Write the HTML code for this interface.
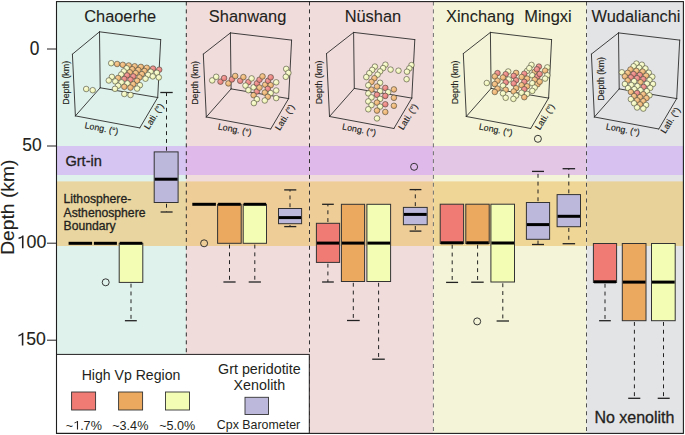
<!DOCTYPE html>
<html><head><meta charset="utf-8"><style>
html,body{margin:0;padding:0;background:#fff;width:685px;height:435px;overflow:hidden}
text{stroke:#231f20;stroke-width:.1px;stroke-linejoin:round}
.sm text{stroke-width:.15px}
.lg text{stroke-width:0}
text.b,.b text{stroke-width:.3px}
</style></head><body>
<svg width="685" height="435" viewBox="0 0 685 435" style="display:block">
<defs>
<radialGradient id="gy" cx="0.38" cy="0.35" r="0.7"><stop offset="0" stop-color="#fbfdda"/><stop offset="1" stop-color="#e8eea6"/></radialGradient>
<radialGradient id="go" cx="0.38" cy="0.35" r="0.7"><stop offset="0" stop-color="#f7cd98"/><stop offset="1" stop-color="#e6a662"/></radialGradient>
<radialGradient id="gr" cx="0.38" cy="0.35" r="0.7"><stop offset="0" stop-color="#f4a29d"/><stop offset="1" stop-color="#e27371"/></radialGradient>
</defs>
<rect x="0" y="0" width="685" height="435" fill="#fff"/>
<rect x="56.5" y="1.6" width="129.50" height="431.80" fill="#e0f2ec"/>
<rect x="56.5" y="146" width="129.50" height="29.00" fill="#d6c5f3"/>
<rect x="56.5" y="181.4" width="129.50" height="64.60" fill="#e9d59f"/>
<rect x="186" y="1.6" width="123.50" height="431.80" fill="#f1dcdc"/>
<rect x="186" y="146" width="123.50" height="29.00" fill="#dfb9ea"/>
<rect x="186" y="181.4" width="123.50" height="64.60" fill="#eecd97"/>
<rect x="309.5" y="1.6" width="123.90" height="431.80" fill="#f1dcdc"/>
<rect x="309.5" y="146" width="123.90" height="29.00" fill="#dfb9ea"/>
<rect x="309.5" y="181.4" width="123.90" height="64.60" fill="#eecd97"/>
<rect x="433.4" y="1.6" width="153.10" height="431.80" fill="#f4f5d8"/>
<rect x="433.4" y="146" width="153.10" height="29.00" fill="#e3c5e6"/>
<rect x="433.4" y="181.4" width="153.10" height="64.60" fill="#efd596"/>
<rect x="586.5" y="1.6" width="96.90" height="431.80" fill="#e3e4e6"/>
<rect x="586.5" y="146" width="96.90" height="29.00" fill="#d6c1f1"/>
<rect x="586.5" y="181.4" width="96.90" height="64.60" fill="#e9d19a"/>
<line x1="186.3" y1="1.5" x2="186.3" y2="433.4" stroke="#2e2e2e" stroke-width="1" stroke-dasharray="4 3.88"/>
<line x1="309.5" y1="1.5" x2="309.5" y2="433.4" stroke="#333" stroke-width="1" stroke-dasharray="4 3.88"/>
<line x1="433.4" y1="1.5" x2="433.4" y2="433.4" stroke="#707070" stroke-width="1" stroke-dasharray="4 3.88"/>
<line x1="586.5" y1="1.5" x2="586.5" y2="433.4" stroke="#505050" stroke-width="1" stroke-dasharray="4 3.88"/>
<g stroke="#2b2b2b" stroke-width="0.9" fill="none" stroke-linecap="round">
<line x1="99.5" y1="31.8" x2="160.7" y2="39.6"/>
<line x1="160.7" y1="39.6" x2="157.7" y2="97.5"/>
<line x1="99.5" y1="31.8" x2="100.2" y2="87.8"/>
<line x1="99.5" y1="31.8" x2="72.4" y2="54.2"/>
<line x1="72.4" y1="54.2" x2="75.4" y2="115.9"/>
<line x1="100.2" y1="87.8" x2="75.4" y2="115.9"/>
<line x1="100.2" y1="87.8" x2="157.7" y2="97.5"/>
<line x1="75.4" y1="115.9" x2="139.8" y2="127.9"/>
<line x1="139.8" y1="127.9" x2="157.7" y2="97.5"/>
</g>
<circle cx="111.2" cy="63.2" r="2.8" fill="url(#gy)" stroke="#4a4a3e" stroke-width="0.6"/>
<circle cx="117.1" cy="64.0" r="2.8" fill="url(#go)" stroke="#4a4a3e" stroke-width="0.6"/>
<circle cx="122.8" cy="64.8" r="2.8" fill="url(#go)" stroke="#4a4a3e" stroke-width="0.6"/>
<circle cx="128.8" cy="65.5" r="2.8" fill="url(#go)" stroke="#4a4a3e" stroke-width="0.6"/>
<circle cx="134.7" cy="66.3" r="2.8" fill="url(#go)" stroke="#4a4a3e" stroke-width="0.6"/>
<circle cx="140.9" cy="66.9" r="2.8" fill="url(#go)" stroke="#4a4a3e" stroke-width="0.6"/>
<circle cx="146.8" cy="67.8" r="2.8" fill="url(#go)" stroke="#4a4a3e" stroke-width="0.6"/>
<circle cx="153.0" cy="68.6" r="2.8" fill="url(#gr)" stroke="#4a4a3e" stroke-width="0.6"/>
<circle cx="159.2" cy="69.7" r="2.8" fill="url(#gr)" stroke="#4a4a3e" stroke-width="0.6"/>
<circle cx="126.7" cy="68.3" r="2.8" fill="url(#gy)" stroke="#4a4a3e" stroke-width="0.6"/>
<circle cx="132.3" cy="69.2" r="2.8" fill="url(#go)" stroke="#4a4a3e" stroke-width="0.6"/>
<circle cx="138.3" cy="70.0" r="2.8" fill="url(#go)" stroke="#4a4a3e" stroke-width="0.6"/>
<circle cx="144.5" cy="71.0" r="2.8" fill="url(#go)" stroke="#4a4a3e" stroke-width="0.6"/>
<circle cx="150.7" cy="71.7" r="2.8" fill="url(#gy)" stroke="#4a4a3e" stroke-width="0.6"/>
<circle cx="156.9" cy="72.8" r="2.8" fill="url(#gy)" stroke="#4a4a3e" stroke-width="0.6"/>
<circle cx="123.8" cy="71.4" r="2.8" fill="url(#gy)" stroke="#4a4a3e" stroke-width="0.6"/>
<circle cx="129.8" cy="72.3" r="2.8" fill="url(#go)" stroke="#4a4a3e" stroke-width="0.6"/>
<circle cx="135.7" cy="73.1" r="2.8" fill="url(#go)" stroke="#4a4a3e" stroke-width="0.6"/>
<circle cx="141.9" cy="74.1" r="2.8" fill="url(#go)" stroke="#4a4a3e" stroke-width="0.6"/>
<circle cx="148.1" cy="74.9" r="2.8" fill="url(#gy)" stroke="#4a4a3e" stroke-width="0.6"/>
<circle cx="152.8" cy="76.4" r="2.8" fill="url(#gy)" stroke="#4a4a3e" stroke-width="0.6"/>
<circle cx="158.8" cy="77.4" r="2.8" fill="url(#gy)" stroke="#4a4a3e" stroke-width="0.6"/>
<circle cx="121.2" cy="74.5" r="2.8" fill="url(#gy)" stroke="#4a4a3e" stroke-width="0.6"/>
<circle cx="127.1" cy="75.4" r="2.8" fill="url(#gr)" stroke="#4a4a3e" stroke-width="0.6"/>
<circle cx="133.3" cy="76.4" r="2.8" fill="url(#gr)" stroke="#4a4a3e" stroke-width="0.6"/>
<circle cx="139.5" cy="77.4" r="2.8" fill="url(#go)" stroke="#4a4a3e" stroke-width="0.6"/>
<circle cx="145.5" cy="78.7" r="2.8" fill="url(#gy)" stroke="#4a4a3e" stroke-width="0.6"/>
<circle cx="111.9" cy="76.9" r="2.8" fill="url(#gy)" stroke="#4a4a3e" stroke-width="0.6"/>
<circle cx="118.1" cy="78.0" r="2.8" fill="url(#go)" stroke="#4a4a3e" stroke-width="0.6"/>
<circle cx="124.3" cy="79.0" r="2.8" fill="url(#gr)" stroke="#4a4a3e" stroke-width="0.6"/>
<circle cx="130.5" cy="79.7" r="2.8" fill="url(#gr)" stroke="#4a4a3e" stroke-width="0.6"/>
<circle cx="137.1" cy="80.8" r="2.8" fill="url(#go)" stroke="#4a4a3e" stroke-width="0.6"/>
<circle cx="108.8" cy="80.5" r="2.8" fill="url(#gy)" stroke="#4a4a3e" stroke-width="0.6"/>
<circle cx="115.3" cy="81.4" r="2.8" fill="url(#gy)" stroke="#4a4a3e" stroke-width="0.6"/>
<circle cx="121.5" cy="82.4" r="2.8" fill="url(#gy)" stroke="#4a4a3e" stroke-width="0.6"/>
<circle cx="127.4" cy="83.4" r="2.8" fill="url(#gy)" stroke="#4a4a3e" stroke-width="0.6"/>
<circle cx="133.3" cy="84.2" r="2.8" fill="url(#go)" stroke="#4a4a3e" stroke-width="0.6"/>
<circle cx="139.9" cy="85.2" r="2.8" fill="url(#gy)" stroke="#4a4a3e" stroke-width="0.6"/>
<circle cx="118.1" cy="85.7" r="2.8" fill="url(#gy)" stroke="#4a4a3e" stroke-width="0.6"/>
<circle cx="124.3" cy="86.8" r="2.8" fill="url(#go)" stroke="#4a4a3e" stroke-width="0.6"/>
<circle cx="130.5" cy="87.6" r="2.8" fill="url(#go)" stroke="#4a4a3e" stroke-width="0.6"/>
<circle cx="137.1" cy="88.6" r="2.8" fill="url(#gy)" stroke="#4a4a3e" stroke-width="0.6"/>
<circle cx="115.0" cy="88.8" r="2.8" fill="url(#gy)" stroke="#4a4a3e" stroke-width="0.6"/>
<circle cx="124.3" cy="94.0" r="2.8" fill="url(#gy)" stroke="#4a4a3e" stroke-width="0.6"/>
<circle cx="130.5" cy="95.0" r="2.8" fill="url(#gy)" stroke="#4a4a3e" stroke-width="0.6"/>
<circle cx="86.2" cy="89.0" r="2.8" fill="url(#gy)" stroke="#4a4a3e" stroke-width="0.6"/>
<circle cx="92.7" cy="90.2" r="2.8" fill="url(#gy)" stroke="#4a4a3e" stroke-width="0.6"/>
<g class="sm" font-family='"Liberation Sans", sans-serif' font-size="8.9" fill="#231f20">
<text transform="translate(68.5,82.8) rotate(-90)" text-anchor="middle">Depth (km)</text>
<text transform="translate(101.0,131.3) rotate(11)" text-anchor="middle">Long. (°)</text>
<text transform="translate(156.4,117.8) rotate(-58)" text-anchor="middle">Lati. (°)</text>
</g>
<g stroke="#2b2b2b" stroke-width="0.9" fill="none" stroke-linecap="round">
<line x1="230.4" y1="32.9" x2="291.6" y2="40.1"/>
<line x1="291.6" y1="40.1" x2="288.6" y2="98.6"/>
<line x1="230.4" y1="32.9" x2="231.1" y2="88.9"/>
<line x1="230.4" y1="32.9" x2="203.3" y2="54.1"/>
<line x1="203.3" y1="54.1" x2="206.3" y2="117.0"/>
<line x1="231.1" y1="88.9" x2="206.3" y2="117.0"/>
<line x1="231.1" y1="88.9" x2="288.6" y2="98.6"/>
<line x1="206.3" y1="117.0" x2="270.7" y2="129.0"/>
<line x1="270.7" y1="129.0" x2="288.6" y2="98.6"/>
</g>
<circle cx="212.2" cy="80.4" r="2.8" fill="url(#gy)" stroke="#4a4a3e" stroke-width="0.6"/>
<circle cx="216.2" cy="76.8" r="2.8" fill="url(#gy)" stroke="#4a4a3e" stroke-width="0.6"/>
<circle cx="220.5" cy="81.7" r="2.8" fill="url(#gr)" stroke="#4a4a3e" stroke-width="0.6"/>
<circle cx="224.1" cy="78.1" r="2.8" fill="url(#gr)" stroke="#4a4a3e" stroke-width="0.6"/>
<circle cx="228.4" cy="83.4" r="2.8" fill="url(#go)" stroke="#4a4a3e" stroke-width="0.6"/>
<circle cx="231.9" cy="79.4" r="2.8" fill="url(#gr)" stroke="#4a4a3e" stroke-width="0.6"/>
<circle cx="235.2" cy="76.0" r="2.8" fill="url(#go)" stroke="#4a4a3e" stroke-width="0.6"/>
<circle cx="240.2" cy="80.8" r="2.8" fill="url(#gr)" stroke="#4a4a3e" stroke-width="0.6"/>
<circle cx="243.4" cy="77.1" r="2.8" fill="url(#go)" stroke="#4a4a3e" stroke-width="0.6"/>
<circle cx="248.4" cy="82.1" r="2.8" fill="url(#gr)" stroke="#4a4a3e" stroke-width="0.6"/>
<circle cx="251.6" cy="78.4" r="2.8" fill="url(#gy)" stroke="#4a4a3e" stroke-width="0.6"/>
<circle cx="245.5" cy="85.6" r="2.8" fill="url(#gy)" stroke="#4a4a3e" stroke-width="0.6"/>
<circle cx="248.4" cy="90.2" r="2.8" fill="url(#gy)" stroke="#4a4a3e" stroke-width="0.6"/>
<circle cx="253.6" cy="87.3" r="2.8" fill="url(#gy)" stroke="#4a4a3e" stroke-width="0.6"/>
<circle cx="256.9" cy="83.4" r="2.8" fill="url(#gr)" stroke="#4a4a3e" stroke-width="0.6"/>
<circle cx="259.5" cy="79.7" r="2.8" fill="url(#gr)" stroke="#4a4a3e" stroke-width="0.6"/>
<circle cx="262.5" cy="76.4" r="2.8" fill="url(#go)" stroke="#4a4a3e" stroke-width="0.6"/>
<circle cx="256.9" cy="91.5" r="2.8" fill="url(#gr)" stroke="#4a4a3e" stroke-width="0.6"/>
<circle cx="259.5" cy="87.6" r="2.8" fill="url(#go)" stroke="#4a4a3e" stroke-width="0.6"/>
<circle cx="253.6" cy="95.2" r="2.8" fill="url(#go)" stroke="#4a4a3e" stroke-width="0.6"/>
<circle cx="256.9" cy="99.2" r="2.8" fill="url(#gy)" stroke="#4a4a3e" stroke-width="0.6"/>
<circle cx="253.9" cy="103.1" r="2.8" fill="url(#gy)" stroke="#4a4a3e" stroke-width="0.6"/>
<circle cx="265.2" cy="84.7" r="2.8" fill="url(#go)" stroke="#4a4a3e" stroke-width="0.6"/>
<circle cx="268.1" cy="80.8" r="2.8" fill="url(#gr)" stroke="#4a4a3e" stroke-width="0.6"/>
<circle cx="270.7" cy="77.3" r="2.8" fill="url(#gr)" stroke="#4a4a3e" stroke-width="0.6"/>
<circle cx="270.7" cy="85.2" r="2.8" fill="url(#go)" stroke="#4a4a3e" stroke-width="0.6"/>
<circle cx="267.8" cy="88.9" r="2.8" fill="url(#gr)" stroke="#4a4a3e" stroke-width="0.6"/>
<circle cx="264.8" cy="92.6" r="2.8" fill="url(#go)" stroke="#4a4a3e" stroke-width="0.6"/>
<circle cx="270.7" cy="93.1" r="2.8" fill="url(#gy)" stroke="#4a4a3e" stroke-width="0.6"/>
<circle cx="267.8" cy="96.8" r="2.8" fill="url(#go)" stroke="#4a4a3e" stroke-width="0.6"/>
<circle cx="264.8" cy="100.5" r="2.8" fill="url(#gy)" stroke="#4a4a3e" stroke-width="0.6"/>
<circle cx="276.2" cy="82.3" r="2.8" fill="url(#gy)" stroke="#4a4a3e" stroke-width="0.6"/>
<circle cx="276.2" cy="90.5" r="2.8" fill="url(#gy)" stroke="#4a4a3e" stroke-width="0.6"/>
<circle cx="276.2" cy="98.1" r="2.8" fill="url(#gy)" stroke="#4a4a3e" stroke-width="0.6"/>
<circle cx="286.2" cy="68.9" r="2.8" fill="url(#gy)" stroke="#4a4a3e" stroke-width="0.6"/>
<circle cx="288.4" cy="72.9" r="2.8" fill="url(#gy)" stroke="#4a4a3e" stroke-width="0.6"/>
<circle cx="285.8" cy="76.8" r="2.8" fill="url(#gy)" stroke="#4a4a3e" stroke-width="0.6"/>
<g class="sm" font-family='"Liberation Sans", sans-serif' font-size="8.9" fill="#231f20">
<text transform="translate(198.4,82.9) rotate(-90)" text-anchor="middle">Depth (km)</text>
<text transform="translate(234.2,132.4) rotate(11)" text-anchor="middle">Long. (°)</text>
<text transform="translate(287.3,118.9) rotate(-58)" text-anchor="middle">Lati. (°)</text>
</g>
<g stroke="#2b2b2b" stroke-width="0.9" fill="none" stroke-linecap="round">
<line x1="353.6" y1="32.4" x2="414.8" y2="39.6"/>
<line x1="414.8" y1="39.6" x2="411.8" y2="98.1"/>
<line x1="353.6" y1="32.4" x2="354.3" y2="88.4"/>
<line x1="353.6" y1="32.4" x2="326.5" y2="53.6"/>
<line x1="326.5" y1="53.6" x2="329.5" y2="116.5"/>
<line x1="354.3" y1="88.4" x2="329.5" y2="116.5"/>
<line x1="354.3" y1="88.4" x2="411.8" y2="98.1"/>
<line x1="329.5" y1="116.5" x2="393.9" y2="128.5"/>
<line x1="393.9" y1="128.5" x2="411.8" y2="98.1"/>
</g>
<circle cx="374.9" cy="66.6" r="2.8" fill="url(#gy)" stroke="#4a4a3e" stroke-width="0.6"/>
<circle cx="372.2" cy="69.9" r="2.8" fill="url(#gy)" stroke="#4a4a3e" stroke-width="0.6"/>
<circle cx="369.3" cy="73.2" r="2.8" fill="url(#gy)" stroke="#4a4a3e" stroke-width="0.6"/>
<circle cx="385.4" cy="64.7" r="2.8" fill="url(#gy)" stroke="#4a4a3e" stroke-width="0.6"/>
<circle cx="383.1" cy="68.1" r="2.8" fill="url(#gy)" stroke="#4a4a3e" stroke-width="0.6"/>
<circle cx="380.1" cy="71.4" r="2.8" fill="url(#gy)" stroke="#4a4a3e" stroke-width="0.6"/>
<circle cx="377.6" cy="74.7" r="2.8" fill="url(#gy)" stroke="#4a4a3e" stroke-width="0.6"/>
<circle cx="390.6" cy="69.6" r="2.8" fill="url(#gy)" stroke="#4a4a3e" stroke-width="0.6"/>
<circle cx="398.5" cy="70.7" r="2.8" fill="url(#gy)" stroke="#4a4a3e" stroke-width="0.6"/>
<circle cx="411.5" cy="65.1" r="2.8" fill="url(#gy)" stroke="#4a4a3e" stroke-width="0.6"/>
<circle cx="409.3" cy="68.4" r="2.8" fill="url(#gy)" stroke="#4a4a3e" stroke-width="0.6"/>
<circle cx="407.0" cy="71.7" r="2.8" fill="url(#gy)" stroke="#4a4a3e" stroke-width="0.6"/>
<circle cx="406.6" cy="79.2" r="2.8" fill="url(#gy)" stroke="#4a4a3e" stroke-width="0.6"/>
<circle cx="366.3" cy="77.1" r="2.8" fill="url(#gy)" stroke="#4a4a3e" stroke-width="0.6"/>
<circle cx="374.4" cy="78.2" r="2.8" fill="url(#go)" stroke="#4a4a3e" stroke-width="0.6"/>
<circle cx="371.5" cy="81.9" r="2.8" fill="url(#go)" stroke="#4a4a3e" stroke-width="0.6"/>
<circle cx="380.1" cy="82.8" r="2.8" fill="url(#gy)" stroke="#4a4a3e" stroke-width="0.6"/>
<circle cx="368.3" cy="85.3" r="2.8" fill="url(#gy)" stroke="#4a4a3e" stroke-width="0.6"/>
<circle cx="377.0" cy="86.5" r="2.8" fill="url(#go)" stroke="#4a4a3e" stroke-width="0.6"/>
<circle cx="385.3" cy="87.9" r="2.8" fill="url(#gr)" stroke="#4a4a3e" stroke-width="0.6"/>
<circle cx="393.9" cy="89.4" r="2.8" fill="url(#go)" stroke="#4a4a3e" stroke-width="0.6"/>
<circle cx="371.5" cy="89.7" r="2.8" fill="url(#go)" stroke="#4a4a3e" stroke-width="0.6"/>
<circle cx="380.1" cy="91.1" r="2.8" fill="url(#gy)" stroke="#4a4a3e" stroke-width="0.6"/>
<circle cx="388.2" cy="92.2" r="2.8" fill="url(#gy)" stroke="#4a4a3e" stroke-width="0.6"/>
<circle cx="368.3" cy="93.4" r="2.8" fill="url(#gy)" stroke="#4a4a3e" stroke-width="0.6"/>
<circle cx="377.0" cy="94.8" r="2.8" fill="url(#gr)" stroke="#4a4a3e" stroke-width="0.6"/>
<circle cx="385.3" cy="95.9" r="2.8" fill="url(#gr)" stroke="#4a4a3e" stroke-width="0.6"/>
<circle cx="393.9" cy="97.8" r="2.8" fill="url(#go)" stroke="#4a4a3e" stroke-width="0.6"/>
<circle cx="371.5" cy="97.4" r="2.8" fill="url(#gy)" stroke="#4a4a3e" stroke-width="0.6"/>
<circle cx="380.1" cy="98.9" r="2.8" fill="url(#gy)" stroke="#4a4a3e" stroke-width="0.6"/>
<circle cx="368.3" cy="101.4" r="2.8" fill="url(#gy)" stroke="#4a4a3e" stroke-width="0.6"/>
<circle cx="377.0" cy="102.6" r="2.8" fill="url(#go)" stroke="#4a4a3e" stroke-width="0.6"/>
<circle cx="385.3" cy="104.3" r="2.8" fill="url(#gr)" stroke="#4a4a3e" stroke-width="0.6"/>
<circle cx="393.9" cy="105.8" r="2.8" fill="url(#go)" stroke="#4a4a3e" stroke-width="0.6"/>
<circle cx="371.5" cy="105.1" r="2.8" fill="url(#gy)" stroke="#4a4a3e" stroke-width="0.6"/>
<circle cx="380.1" cy="106.6" r="2.8" fill="url(#gy)" stroke="#4a4a3e" stroke-width="0.6"/>
<circle cx="368.3" cy="109.3" r="2.8" fill="url(#gy)" stroke="#4a4a3e" stroke-width="0.6"/>
<circle cx="377.0" cy="110.6" r="2.8" fill="url(#go)" stroke="#4a4a3e" stroke-width="0.6"/>
<circle cx="385.3" cy="112.0" r="2.8" fill="url(#go)" stroke="#4a4a3e" stroke-width="0.6"/>
<circle cx="377.0" cy="118.4" r="2.8" fill="url(#gy)" stroke="#4a4a3e" stroke-width="0.6"/>
<g class="sm" font-family='"Liberation Sans", sans-serif' font-size="8.9" fill="#231f20">
<text transform="translate(321.6,82.4) rotate(-90)" text-anchor="middle">Depth (km)</text>
<text transform="translate(358.6,132.6) rotate(11)" text-anchor="middle">Long. (°)</text>
<text transform="translate(410.5,118.4) rotate(-58)" text-anchor="middle">Lati. (°)</text>
</g>
<g stroke="#2b2b2b" stroke-width="0.9" fill="none" stroke-linecap="round">
<line x1="490.4" y1="32.4" x2="551.6" y2="39.6"/>
<line x1="551.6" y1="39.6" x2="548.6" y2="98.1"/>
<line x1="490.4" y1="32.4" x2="491.1" y2="88.4"/>
<line x1="490.4" y1="32.4" x2="463.3" y2="53.6"/>
<line x1="463.3" y1="53.6" x2="466.3" y2="116.5"/>
<line x1="491.1" y1="88.4" x2="466.3" y2="116.5"/>
<line x1="491.1" y1="88.4" x2="548.6" y2="98.1"/>
<line x1="466.3" y1="116.5" x2="530.7" y2="128.5"/>
<line x1="530.7" y1="128.5" x2="548.6" y2="98.1"/>
</g>
<circle cx="486.8" cy="83.0" r="2.8" fill="url(#gy)" stroke="#4a4a3e" stroke-width="0.6"/>
<circle cx="497.5" cy="73.1" r="2.8" fill="url(#gr)" stroke="#4a4a3e" stroke-width="0.6"/>
<circle cx="494.8" cy="76.4" r="2.8" fill="url(#go)" stroke="#4a4a3e" stroke-width="0.6"/>
<circle cx="497.5" cy="80.8" r="2.8" fill="url(#go)" stroke="#4a4a3e" stroke-width="0.6"/>
<circle cx="494.8" cy="84.1" r="2.8" fill="url(#go)" stroke="#4a4a3e" stroke-width="0.6"/>
<circle cx="497.5" cy="88.7" r="2.8" fill="url(#go)" stroke="#4a4a3e" stroke-width="0.6"/>
<circle cx="494.8" cy="92.0" r="2.8" fill="url(#go)" stroke="#4a4a3e" stroke-width="0.6"/>
<circle cx="508.2" cy="71.5" r="2.8" fill="url(#gy)" stroke="#4a4a3e" stroke-width="0.6"/>
<circle cx="505.7" cy="74.2" r="2.8" fill="url(#gr)" stroke="#4a4a3e" stroke-width="0.6"/>
<circle cx="503.0" cy="77.5" r="2.8" fill="url(#go)" stroke="#4a4a3e" stroke-width="0.6"/>
<circle cx="508.7" cy="79.5" r="2.8" fill="url(#gy)" stroke="#4a4a3e" stroke-width="0.6"/>
<circle cx="505.7" cy="82.4" r="2.8" fill="url(#gr)" stroke="#4a4a3e" stroke-width="0.6"/>
<circle cx="503.0" cy="85.7" r="2.8" fill="url(#gy)" stroke="#4a4a3e" stroke-width="0.6"/>
<circle cx="505.7" cy="89.8" r="2.8" fill="url(#go)" stroke="#4a4a3e" stroke-width="0.6"/>
<circle cx="503.0" cy="93.4" r="2.8" fill="url(#gy)" stroke="#4a4a3e" stroke-width="0.6"/>
<circle cx="505.7" cy="97.8" r="2.8" fill="url(#gy)" stroke="#4a4a3e" stroke-width="0.6"/>
<circle cx="516.1" cy="72.9" r="2.8" fill="url(#go)" stroke="#4a4a3e" stroke-width="0.6"/>
<circle cx="513.7" cy="75.9" r="2.8" fill="url(#gr)" stroke="#4a4a3e" stroke-width="0.6"/>
<circle cx="516.1" cy="80.3" r="2.8" fill="url(#gr)" stroke="#4a4a3e" stroke-width="0.6"/>
<circle cx="513.7" cy="83.5" r="2.8" fill="url(#gr)" stroke="#4a4a3e" stroke-width="0.6"/>
<circle cx="516.1" cy="88.2" r="2.8" fill="url(#go)" stroke="#4a4a3e" stroke-width="0.6"/>
<circle cx="513.7" cy="91.5" r="2.8" fill="url(#go)" stroke="#4a4a3e" stroke-width="0.6"/>
<circle cx="516.1" cy="95.6" r="2.8" fill="url(#gy)" stroke="#4a4a3e" stroke-width="0.6"/>
<circle cx="513.4" cy="98.9" r="2.8" fill="url(#gy)" stroke="#4a4a3e" stroke-width="0.6"/>
<circle cx="527.1" cy="70.9" r="2.8" fill="url(#gy)" stroke="#4a4a3e" stroke-width="0.6"/>
<circle cx="524.3" cy="73.7" r="2.8" fill="url(#gr)" stroke="#4a4a3e" stroke-width="0.6"/>
<circle cx="521.6" cy="77.0" r="2.8" fill="url(#go)" stroke="#4a4a3e" stroke-width="0.6"/>
<circle cx="527.1" cy="78.6" r="2.8" fill="url(#go)" stroke="#4a4a3e" stroke-width="0.6"/>
<circle cx="524.3" cy="81.9" r="2.8" fill="url(#gr)" stroke="#4a4a3e" stroke-width="0.6"/>
<circle cx="521.6" cy="85.2" r="2.8" fill="url(#go)" stroke="#4a4a3e" stroke-width="0.6"/>
<circle cx="527.1" cy="86.3" r="2.8" fill="url(#go)" stroke="#4a4a3e" stroke-width="0.6"/>
<circle cx="524.3" cy="89.3" r="2.8" fill="url(#gr)" stroke="#4a4a3e" stroke-width="0.6"/>
<circle cx="521.6" cy="92.8" r="2.8" fill="url(#gy)" stroke="#4a4a3e" stroke-width="0.6"/>
<circle cx="527.1" cy="93.9" r="2.8" fill="url(#gy)" stroke="#4a4a3e" stroke-width="0.6"/>
<circle cx="524.3" cy="97.2" r="2.8" fill="url(#go)" stroke="#4a4a3e" stroke-width="0.6"/>
<circle cx="531.5" cy="64.9" r="2.8" fill="url(#gy)" stroke="#4a4a3e" stroke-width="0.6"/>
<circle cx="529.3" cy="68.2" r="2.8" fill="url(#gy)" stroke="#4a4a3e" stroke-width="0.6"/>
<circle cx="534.7" cy="72.0" r="2.8" fill="url(#go)" stroke="#4a4a3e" stroke-width="0.6"/>
<circle cx="532.3" cy="75.3" r="2.8" fill="url(#gy)" stroke="#4a4a3e" stroke-width="0.6"/>
<circle cx="537.5" cy="76.4" r="2.8" fill="url(#gr)" stroke="#4a4a3e" stroke-width="0.6"/>
<circle cx="534.7" cy="79.7" r="2.8" fill="url(#go)" stroke="#4a4a3e" stroke-width="0.6"/>
<circle cx="532.3" cy="83.2" r="2.8" fill="url(#gy)" stroke="#4a4a3e" stroke-width="0.6"/>
<circle cx="537.5" cy="84.3" r="2.8" fill="url(#go)" stroke="#4a4a3e" stroke-width="0.6"/>
<circle cx="534.7" cy="87.6" r="2.8" fill="url(#gy)" stroke="#4a4a3e" stroke-width="0.6"/>
<circle cx="532.3" cy="90.9" r="2.8" fill="url(#gy)" stroke="#4a4a3e" stroke-width="0.6"/>
<circle cx="538.9" cy="66.6" r="2.8" fill="url(#gr)" stroke="#4a4a3e" stroke-width="0.6"/>
<circle cx="536.9" cy="69.3" r="2.8" fill="url(#gr)" stroke="#4a4a3e" stroke-width="0.6"/>
<circle cx="539.7" cy="74.0" r="2.8" fill="url(#gr)" stroke="#4a4a3e" stroke-width="0.6"/>
<circle cx="539.7" cy="81.7" r="2.8" fill="url(#go)" stroke="#4a4a3e" stroke-width="0.6"/>
<circle cx="547.3" cy="67.4" r="2.8" fill="url(#gy)" stroke="#4a4a3e" stroke-width="0.6"/>
<circle cx="545.1" cy="70.7" r="2.8" fill="url(#go)" stroke="#4a4a3e" stroke-width="0.6"/>
<circle cx="547.3" cy="75.3" r="2.8" fill="url(#gy)" stroke="#4a4a3e" stroke-width="0.6"/>
<circle cx="545.1" cy="78.6" r="2.8" fill="url(#gy)" stroke="#4a4a3e" stroke-width="0.6"/>
<g class="sm" font-family='"Liberation Sans", sans-serif' font-size="8.9" fill="#231f20">
<text transform="translate(458.4,82.4) rotate(-90)" text-anchor="middle">Depth (km)</text>
<text transform="translate(495.2,132.6) rotate(11)" text-anchor="middle">Long. (°)</text>
<text transform="translate(547.3,118.4) rotate(-58)" text-anchor="middle">Lati. (°)</text>
</g>
<g stroke="#2b2b2b" stroke-width="0.9" fill="none" stroke-linecap="round">
<line x1="618.5" y1="32.9" x2="679.7" y2="40.1"/>
<line x1="679.7" y1="40.1" x2="676.7" y2="98.6"/>
<line x1="618.5" y1="32.9" x2="619.2" y2="88.9"/>
<line x1="618.5" y1="32.9" x2="591.4" y2="54.1"/>
<line x1="591.4" y1="54.1" x2="594.4" y2="117.0"/>
<line x1="619.2" y1="88.9" x2="594.4" y2="117.0"/>
<line x1="619.2" y1="88.9" x2="676.7" y2="98.6"/>
<line x1="594.4" y1="117.0" x2="658.8" y2="129.0"/>
<line x1="658.8" y1="129.0" x2="676.7" y2="98.6"/>
</g>
<circle cx="621.9" cy="72.3" r="2.8" fill="url(#gy)" stroke="#4a4a3e" stroke-width="0.6"/>
<circle cx="636.4" cy="63.6" r="2.8" fill="url(#gy)" stroke="#4a4a3e" stroke-width="0.6"/>
<circle cx="641.9" cy="64.7" r="2.8" fill="url(#gy)" stroke="#4a4a3e" stroke-width="0.6"/>
<circle cx="633.6" cy="66.3" r="2.8" fill="url(#gy)" stroke="#4a4a3e" stroke-width="0.6"/>
<circle cx="639.2" cy="67.7" r="2.8" fill="url(#gy)" stroke="#4a4a3e" stroke-width="0.6"/>
<circle cx="645.4" cy="68.5" r="2.8" fill="url(#gy)" stroke="#4a4a3e" stroke-width="0.6"/>
<circle cx="630.5" cy="69.5" r="2.8" fill="url(#go)" stroke="#4a4a3e" stroke-width="0.6"/>
<circle cx="636.4" cy="70.9" r="2.8" fill="url(#go)" stroke="#4a4a3e" stroke-width="0.6"/>
<circle cx="642.6" cy="71.6" r="2.8" fill="url(#go)" stroke="#4a4a3e" stroke-width="0.6"/>
<circle cx="648.8" cy="72.7" r="2.8" fill="url(#gy)" stroke="#4a4a3e" stroke-width="0.6"/>
<circle cx="627.7" cy="72.9" r="2.8" fill="url(#go)" stroke="#4a4a3e" stroke-width="0.6"/>
<circle cx="633.6" cy="74.1" r="2.8" fill="url(#gr)" stroke="#4a4a3e" stroke-width="0.6"/>
<circle cx="639.8" cy="75.0" r="2.8" fill="url(#gr)" stroke="#4a4a3e" stroke-width="0.6"/>
<circle cx="646.1" cy="75.7" r="2.8" fill="url(#go)" stroke="#4a4a3e" stroke-width="0.6"/>
<circle cx="652.3" cy="76.8" r="2.8" fill="url(#gy)" stroke="#4a4a3e" stroke-width="0.6"/>
<circle cx="624.9" cy="76.4" r="2.8" fill="url(#go)" stroke="#4a4a3e" stroke-width="0.6"/>
<circle cx="630.9" cy="77.4" r="2.8" fill="url(#gr)" stroke="#4a4a3e" stroke-width="0.6"/>
<circle cx="637.1" cy="78.2" r="2.8" fill="url(#gr)" stroke="#4a4a3e" stroke-width="0.6"/>
<circle cx="643.3" cy="79.2" r="2.8" fill="url(#gr)" stroke="#4a4a3e" stroke-width="0.6"/>
<circle cx="649.5" cy="80.1" r="2.8" fill="url(#gy)" stroke="#4a4a3e" stroke-width="0.6"/>
<circle cx="627.7" cy="80.5" r="2.8" fill="url(#go)" stroke="#4a4a3e" stroke-width="0.6"/>
<circle cx="634.1" cy="81.2" r="2.8" fill="url(#gy)" stroke="#4a4a3e" stroke-width="0.6"/>
<circle cx="640.5" cy="82.3" r="2.8" fill="url(#go)" stroke="#4a4a3e" stroke-width="0.6"/>
<circle cx="647.0" cy="83.7" r="2.8" fill="url(#gy)" stroke="#4a4a3e" stroke-width="0.6"/>
<circle cx="653.0" cy="84.0" r="2.8" fill="url(#gy)" stroke="#4a4a3e" stroke-width="0.6"/>
<circle cx="624.9" cy="84.0" r="2.8" fill="url(#gy)" stroke="#4a4a3e" stroke-width="0.6"/>
<circle cx="631.3" cy="85.1" r="2.8" fill="url(#gy)" stroke="#4a4a3e" stroke-width="0.6"/>
<circle cx="637.4" cy="86.1" r="2.8" fill="url(#gy)" stroke="#4a4a3e" stroke-width="0.6"/>
<circle cx="643.7" cy="87.0" r="2.8" fill="url(#gr)" stroke="#4a4a3e" stroke-width="0.6"/>
<circle cx="650.2" cy="87.9" r="2.8" fill="url(#gy)" stroke="#4a4a3e" stroke-width="0.6"/>
<circle cx="628.1" cy="88.1" r="2.8" fill="url(#gy)" stroke="#4a4a3e" stroke-width="0.6"/>
<circle cx="634.3" cy="89.2" r="2.8" fill="url(#gy)" stroke="#4a4a3e" stroke-width="0.6"/>
<circle cx="640.5" cy="90.2" r="2.8" fill="url(#gy)" stroke="#4a4a3e" stroke-width="0.6"/>
<circle cx="646.8" cy="91.2" r="2.8" fill="url(#gy)" stroke="#4a4a3e" stroke-width="0.6"/>
<circle cx="630.9" cy="92.0" r="2.8" fill="url(#go)" stroke="#4a4a3e" stroke-width="0.6"/>
<circle cx="637.1" cy="93.0" r="2.8" fill="url(#gr)" stroke="#4a4a3e" stroke-width="0.6"/>
<circle cx="643.3" cy="94.3" r="2.8" fill="url(#go)" stroke="#4a4a3e" stroke-width="0.6"/>
<circle cx="649.5" cy="95.3" r="2.8" fill="url(#gy)" stroke="#4a4a3e" stroke-width="0.6"/>
<circle cx="634.1" cy="96.1" r="2.8" fill="url(#go)" stroke="#4a4a3e" stroke-width="0.6"/>
<circle cx="640.1" cy="97.1" r="2.8" fill="url(#go)" stroke="#4a4a3e" stroke-width="0.6"/>
<circle cx="646.5" cy="98.1" r="2.8" fill="url(#go)" stroke="#4a4a3e" stroke-width="0.6"/>
<circle cx="630.9" cy="99.2" r="2.8" fill="url(#gy)" stroke="#4a4a3e" stroke-width="0.6"/>
<circle cx="637.1" cy="100.3" r="2.8" fill="url(#go)" stroke="#4a4a3e" stroke-width="0.6"/>
<circle cx="643.3" cy="101.2" r="2.8" fill="url(#go)" stroke="#4a4a3e" stroke-width="0.6"/>
<circle cx="634.1" cy="103.3" r="2.8" fill="url(#gy)" stroke="#4a4a3e" stroke-width="0.6"/>
<circle cx="640.1" cy="104.4" r="2.8" fill="url(#go)" stroke="#4a4a3e" stroke-width="0.6"/>
<circle cx="646.1" cy="105.0" r="2.8" fill="url(#gy)" stroke="#4a4a3e" stroke-width="0.6"/>
<circle cx="637.1" cy="107.5" r="2.8" fill="url(#gy)" stroke="#4a4a3e" stroke-width="0.6"/>
<circle cx="643.3" cy="108.6" r="2.8" fill="url(#gy)" stroke="#4a4a3e" stroke-width="0.6"/>
<g class="sm" font-family='"Liberation Sans", sans-serif' font-size="8.9" fill="#231f20">
<text transform="translate(603.7,78.9) rotate(-90)" text-anchor="middle">Depth (km)</text>
<text transform="translate(622.3,132.4) rotate(11)" text-anchor="middle">Long. (°)</text>
<text transform="translate(672.9,121.9) rotate(-58)" text-anchor="middle">Lati. (°)</text>
</g>
<line x1="68.6" y1="243.3" x2="92.1" y2="243.3" stroke="#000" stroke-width="3"/>
<line x1="93.9" y1="243.3" x2="116.9" y2="243.3" stroke="#000" stroke-width="3"/>
<line x1="131" y1="282.4" x2="131" y2="320.7" stroke="#222" stroke-width="1" stroke-dasharray="3.9 3.9" stroke-dashoffset="6.5"/>
<line x1="124.9" y1="320.7" x2="136.8" y2="320.7" stroke="#222" stroke-width="1.3"/>
<rect x="119.2" y="243.3" width="23.6" height="39.1" fill="#f3fdb3" stroke="#333" stroke-width="1"/>
<line x1="119.7" y1="243.3" x2="142.3" y2="243.3" stroke="#000" stroke-width="3"/>
<circle cx="105.7" cy="282.3" r="3.5" fill="none" stroke="#222" stroke-width="0.9"/>
<line x1="166.5" y1="152" x2="166.5" y2="92.5" stroke="#222" stroke-width="1" stroke-dasharray="3.9 3.9" stroke-dashoffset="6.5"/>
<line x1="160.3" y1="92.5" x2="172.7" y2="92.5" stroke="#222" stroke-width="1.3"/>
<line x1="166.5" y1="202.5" x2="166.5" y2="212" stroke="#222" stroke-width="1" stroke-dasharray="3.9 3.9" stroke-dashoffset="6.5"/>
<line x1="160.6" y1="212" x2="172.6" y2="212" stroke="#222" stroke-width="1.3"/>
<rect x="154.2" y="151.9" width="23.9" height="50.6" fill="#bcb8dc" stroke="#333" stroke-width="1"/>
<line x1="154.7" y1="179.2" x2="177.6" y2="179.2" stroke="#000" stroke-width="3"/>
<line x1="192.3" y1="204.3" x2="215.9" y2="204.3" stroke="#000" stroke-width="3"/>
<circle cx="204.1" cy="243.3" r="3.5" fill="none" stroke="#222" stroke-width="0.9"/>
<line x1="229.5" y1="243.3" x2="229.5" y2="282" stroke="#222" stroke-width="1" stroke-dasharray="3.9 3.9" stroke-dashoffset="6.5"/>
<line x1="223.4" y1="282" x2="235.6" y2="282" stroke="#222" stroke-width="1.3"/>
<rect x="217.6" y="204.3" width="23.6" height="39.0" fill="#eba95f" stroke="#333" stroke-width="1"/>
<line x1="218.1" y1="204.3" x2="240.7" y2="204.3" stroke="#000" stroke-width="3"/>
<line x1="254.8" y1="243.3" x2="254.8" y2="282" stroke="#222" stroke-width="1" stroke-dasharray="3.9 3.9" stroke-dashoffset="6.5"/>
<line x1="248.7" y1="282" x2="260.9" y2="282" stroke="#222" stroke-width="1.3"/>
<rect x="243.2" y="204.3" width="23.3" height="39.0" fill="#f3fdb3" stroke="#333" stroke-width="1"/>
<line x1="243.7" y1="204.3" x2="266.0" y2="204.3" stroke="#000" stroke-width="3"/>
<line x1="290" y1="208.5" x2="290" y2="189.9" stroke="#222" stroke-width="1" stroke-dasharray="3.9 3.9" stroke-dashoffset="6.5"/>
<line x1="284.2" y1="189.9" x2="296.3" y2="189.9" stroke="#222" stroke-width="1.3"/>
<line x1="290" y1="223.7" x2="290" y2="226.6" stroke="#222" stroke-width="1" stroke-dasharray="3.9 3.9" stroke-dashoffset="6.5"/>
<line x1="284.2" y1="226.6" x2="296.3" y2="226.6" stroke="#222" stroke-width="1.3"/>
<rect x="278.5" y="208.5" width="23.1" height="15.2" fill="#bcb8dc" stroke="#333" stroke-width="1"/>
<line x1="279.0" y1="217.6" x2="301.1" y2="217.6" stroke="#000" stroke-width="3"/>
<line x1="327.9" y1="223.3" x2="327.9" y2="204.3" stroke="#222" stroke-width="1" stroke-dasharray="3.9 3.9" stroke-dashoffset="6.5"/>
<line x1="322.1" y1="204.3" x2="333.8" y2="204.3" stroke="#222" stroke-width="1.3"/>
<line x1="327.9" y1="262.4" x2="327.9" y2="282" stroke="#222" stroke-width="1" stroke-dasharray="3.9 3.9" stroke-dashoffset="6.5"/>
<line x1="322.1" y1="282" x2="333.8" y2="282" stroke="#222" stroke-width="1.3"/>
<rect x="316.4" y="223.3" width="23.2" height="39.1" fill="#f07a74" stroke="#333" stroke-width="1"/>
<line x1="316.9" y1="243.1" x2="339.1" y2="243.1" stroke="#000" stroke-width="3"/>
<line x1="353.3" y1="281.5" x2="353.3" y2="320.5" stroke="#222" stroke-width="1" stroke-dasharray="3.9 3.9" stroke-dashoffset="6.5"/>
<line x1="347" y1="320.5" x2="359.7" y2="320.5" stroke="#222" stroke-width="1.3"/>
<rect x="341.4" y="204.3" width="23.2" height="77.2" fill="#eba95f" stroke="#333" stroke-width="1"/>
<line x1="341.9" y1="243.1" x2="364.1" y2="243.1" stroke="#000" stroke-width="3"/>
<line x1="378.6" y1="281.5" x2="378.6" y2="359.2" stroke="#222" stroke-width="1" stroke-dasharray="3.9 3.9" stroke-dashoffset="6.5"/>
<line x1="372.2" y1="359.2" x2="384.8" y2="359.2" stroke="#222" stroke-width="1.3"/>
<rect x="366.9" y="204.3" width="23.7" height="77.2" fill="#f3fdb3" stroke="#333" stroke-width="1"/>
<line x1="367.4" y1="243.1" x2="390.1" y2="243.1" stroke="#000" stroke-width="3"/>
<line x1="415.3" y1="207.4" x2="415.3" y2="189.6" stroke="#222" stroke-width="1" stroke-dasharray="3.9 3.9" stroke-dashoffset="6.5"/>
<line x1="409.6" y1="189.6" x2="421.4" y2="189.6" stroke="#222" stroke-width="1.3"/>
<line x1="415.3" y1="224.7" x2="415.3" y2="231.1" stroke="#222" stroke-width="1" stroke-dasharray="3.9 3.9" stroke-dashoffset="6.5"/>
<line x1="409.6" y1="231.1" x2="421.4" y2="231.1" stroke="#222" stroke-width="1.3"/>
<rect x="403.4" y="207.4" width="23.8" height="17.3" fill="#bcb8dc" stroke="#333" stroke-width="1"/>
<line x1="403.9" y1="214.4" x2="426.7" y2="214.4" stroke="#000" stroke-width="3"/>
<circle cx="414.1" cy="166.8" r="3.5" fill="none" stroke="#222" stroke-width="0.9"/>
<line x1="452.2" y1="243.5" x2="452.2" y2="282.4" stroke="#222" stroke-width="1" stroke-dasharray="3.9 3.9" stroke-dashoffset="6.5"/>
<line x1="446.1" y1="282.4" x2="458.1" y2="282.4" stroke="#222" stroke-width="1.3"/>
<rect x="440.2" y="204.2" width="23.4" height="39.3" fill="#f07a74" stroke="#333" stroke-width="1"/>
<line x1="440.7" y1="242.8" x2="463.1" y2="242.8" stroke="#000" stroke-width="3"/>
<line x1="477.6" y1="243.5" x2="477.6" y2="282.2" stroke="#222" stroke-width="1" stroke-dasharray="3.9 3.9" stroke-dashoffset="6.5"/>
<line x1="471.2" y1="282.2" x2="483.7" y2="282.2" stroke="#222" stroke-width="1.3"/>
<rect x="465.8" y="204.2" width="23.4" height="39.3" fill="#eba95f" stroke="#333" stroke-width="1"/>
<line x1="466.3" y1="242.8" x2="488.7" y2="242.8" stroke="#000" stroke-width="3"/>
<line x1="502.8" y1="282" x2="502.8" y2="321" stroke="#222" stroke-width="1" stroke-dasharray="3.9 3.9" stroke-dashoffset="6.5"/>
<line x1="496.6" y1="321" x2="509" y2="321" stroke="#222" stroke-width="1.3"/>
<rect x="490.9" y="204.2" width="23.6" height="77.8" fill="#f3fdb3" stroke="#333" stroke-width="1"/>
<line x1="491.4" y1="243" x2="514.0" y2="243" stroke="#000" stroke-width="3"/>
<circle cx="477.2" cy="321.4" r="3.5" fill="none" stroke="#222" stroke-width="0.9"/>
<line x1="538" y1="202.5" x2="538" y2="171.4" stroke="#222" stroke-width="1" stroke-dasharray="3.9 3.9" stroke-dashoffset="6.5"/>
<line x1="532" y1="171.4" x2="544" y2="171.4" stroke="#222" stroke-width="1.3"/>
<line x1="538" y1="239.3" x2="538" y2="244.5" stroke="#222" stroke-width="1" stroke-dasharray="3.9 3.9" stroke-dashoffset="6.5"/>
<line x1="532" y1="244.5" x2="544" y2="244.5" stroke="#222" stroke-width="1.3"/>
<rect x="526.4" y="202.5" width="23.2" height="36.8" fill="#bcb8dc" stroke="#333" stroke-width="1"/>
<line x1="526.9" y1="224.6" x2="549.1" y2="224.6" stroke="#000" stroke-width="3"/>
<circle cx="537.9" cy="138.8" r="3.5" fill="none" stroke="#222" stroke-width="0.9"/>
<line x1="568.8" y1="194.6" x2="568.8" y2="168.7" stroke="#222" stroke-width="1" stroke-dasharray="3.9 3.9" stroke-dashoffset="6.5"/>
<line x1="562.6" y1="168.7" x2="575.1" y2="168.7" stroke="#222" stroke-width="1.3"/>
<line x1="568.8" y1="226.7" x2="568.8" y2="243.7" stroke="#222" stroke-width="1" stroke-dasharray="3.9 3.9" stroke-dashoffset="6.5"/>
<line x1="562.6" y1="243.7" x2="575.1" y2="243.7" stroke="#222" stroke-width="1.3"/>
<rect x="557.1" y="194.6" width="23.4" height="32.1" fill="#bcb8dc" stroke="#333" stroke-width="1"/>
<line x1="557.6" y1="216.3" x2="580.0" y2="216.3" stroke="#000" stroke-width="3"/>
<line x1="605" y1="282.5" x2="605" y2="320.7" stroke="#222" stroke-width="1" stroke-dasharray="3.9 3.9" stroke-dashoffset="6.5"/>
<line x1="599.1" y1="320.7" x2="610.8" y2="320.7" stroke="#222" stroke-width="1.3"/>
<rect x="593.4" y="243.5" width="23.2" height="39.0" fill="#f07a74" stroke="#333" stroke-width="1"/>
<line x1="593.9" y1="281.8" x2="616.1" y2="281.8" stroke="#000" stroke-width="3"/>
<line x1="634.4" y1="320.7" x2="634.4" y2="398.3" stroke="#222" stroke-width="1" stroke-dasharray="3.9 3.9" stroke-dashoffset="6.5"/>
<line x1="628.2" y1="398.3" x2="640.3" y2="398.3" stroke="#222" stroke-width="1.3"/>
<rect x="622.3" y="243.5" width="23.7" height="77.2" fill="#eba95f" stroke="#333" stroke-width="1"/>
<line x1="622.8" y1="282.1" x2="645.5" y2="282.1" stroke="#000" stroke-width="3"/>
<line x1="663.5" y1="320.7" x2="663.5" y2="398.3" stroke="#222" stroke-width="1" stroke-dasharray="3.9 3.9" stroke-dashoffset="6.5"/>
<line x1="657.7" y1="398.3" x2="669.7" y2="398.3" stroke="#222" stroke-width="1.3"/>
<rect x="651.5" y="243.5" width="23.7" height="77.2" fill="#f3fdb3" stroke="#333" stroke-width="1"/>
<line x1="652.0" y1="282.1" x2="674.7" y2="282.1" stroke="#000" stroke-width="3"/>
<rect x="56.5" y="354.4" width="252.8" height="79" fill="#fff" stroke="#231f20" stroke-width="1"/>
<g class="lg" font-family='"Liberation Sans", sans-serif' fill="#231f20">
<text x="131" y="379.9" font-size="14.1" text-anchor="middle">High Vp Region</text>
<text x="259.4" y="373.5" font-size="14.3" text-anchor="middle">Grt peridotite</text>
<text x="259.4" y="390.1" font-size="14.3" text-anchor="middle">Xenolith</text>
<text x="130.3" y="429.6" font-size="12.6" text-anchor="middle">~3.4%</text>
<text x="177.2" y="429.6" font-size="12.6" text-anchor="middle">~5.0%</text>
<text x="65.76" y="429.6" font-size="12.6">~</text>
<text x="80.13" y="429.6" font-size="12.6">.7%</text>
<text x="258.5" y="429.2" font-size="12.4" text-anchor="middle">Cpx Barometer</text>
</g>
<path transform="translate(73.12,429.6) scale(0.00615,-0.00615)" d="M620 0L800 0L800 1409L680 1409Q580 1255 230 1165L230 1005Q480 1080 620 1190Z" fill="#231f20"/>
<rect x="71.6" y="392" width="24" height="18" fill="#f07a74" stroke="#333" stroke-width="0.9"/>
<rect x="118.6" y="392" width="24" height="18" fill="#eba95f" stroke="#333" stroke-width="0.9"/>
<rect x="165.5" y="392" width="24" height="18" fill="#f3fdb3" stroke="#333" stroke-width="0.9"/>
<rect x="245" y="397.3" width="23.5" height="17.2" fill="#bcb8dc" stroke="#333" stroke-width="0.9"/>
<rect x="56.5" y="1.6" width="626.90" height="431.80" fill="none" stroke="#1e1e1e" stroke-width="1.1"/>
<line x1="47" y1="49" x2="56.5" y2="49" stroke="#231f20" stroke-width="1"/>
<line x1="47" y1="146" x2="56.5" y2="146" stroke="#231f20" stroke-width="1"/>
<line x1="47" y1="243.2" x2="56.5" y2="243.2" stroke="#231f20" stroke-width="1"/>
<line x1="47" y1="340.2" x2="56.5" y2="340.2" stroke="#231f20" stroke-width="1"/>
<g transform="translate(34.55,54.6) scale(0.9,1)">
<text x="-5.37" y="0" font-family='"Liberation Sans", sans-serif' font-size="19.3" fill="#231f20">0</text>
</g>
<g transform="translate(31.9,150.9) scale(0.96,1)">
<text x="-10.13" y="0" font-family='"Liberation Sans", sans-serif' font-size="18.2" fill="#231f20">50</text>
</g>
<g transform="translate(32.1,248.2) scale(0.96,1)">
<path transform="translate(-16.20,0) scale(0.00908,-0.00908)" d="M620 0L800 0L800 1409L680 1409Q580 1255 230 1165L230 1005Q480 1080 620 1190Z" fill="#231f20"/>
<text x="-5.85" y="0" font-family='"Liberation Sans", sans-serif' font-size="18.6" fill="#231f20">00</text>
</g>
<g transform="translate(31.85,345.4) scale(0.96,1)">
<path transform="translate(-16.02,0) scale(0.00898,-0.00898)" d="M620 0L800 0L800 1409L680 1409Q580 1255 230 1165L230 1005Q480 1080 620 1190Z" fill="#231f20"/>
<text x="-5.79" y="0" font-family='"Liberation Sans", sans-serif' font-size="18.4" fill="#231f20">50</text>
</g>
<text transform="translate(14.1,207.2) rotate(-90)" font-family='"Liberation Sans", sans-serif' font-size="19.25" fill="#231f20" text-anchor="middle">Depth (km)</text>
<g font-family='"Liberation Sans", sans-serif' font-size="16.4" fill="#231f20">
<text x="120.2" y="22.1" text-anchor="middle">Chaoerhe</text>
<text x="247.6" y="22.1" text-anchor="middle">Shanwang</text>
<text x="372.9" y="22.1" text-anchor="middle">Nüshan</text>
<text x="480.2" y="22.1" text-anchor="middle">Xinchang</text>
<text x="548" y="22.1" text-anchor="middle">Mingxi</text>
<text x="636" y="22.1" text-anchor="middle">Wudalianchi</text>
</g>
<text class="b" x="65.4" y="166.2" font-family='"Liberation Sans", sans-serif' font-size="14.6" fill="#231f20">Grt-in</text>
<g class="b" font-family='"Liberation Sans", sans-serif' font-size="12.2" fill="#231f20">
<text x="63.5" y="202.7">Lithosphere-</text>
<text x="63.5" y="216.7">Asthenosphere</text>
<text x="63.5" y="230.4">Boundary</text>
</g>
<text class="b" x="634.4" y="422.6" font-family='"Liberation Sans", sans-serif' font-size="16" fill="#231f20" text-anchor="middle">No xenolith</text>
</svg>
</body></html>
